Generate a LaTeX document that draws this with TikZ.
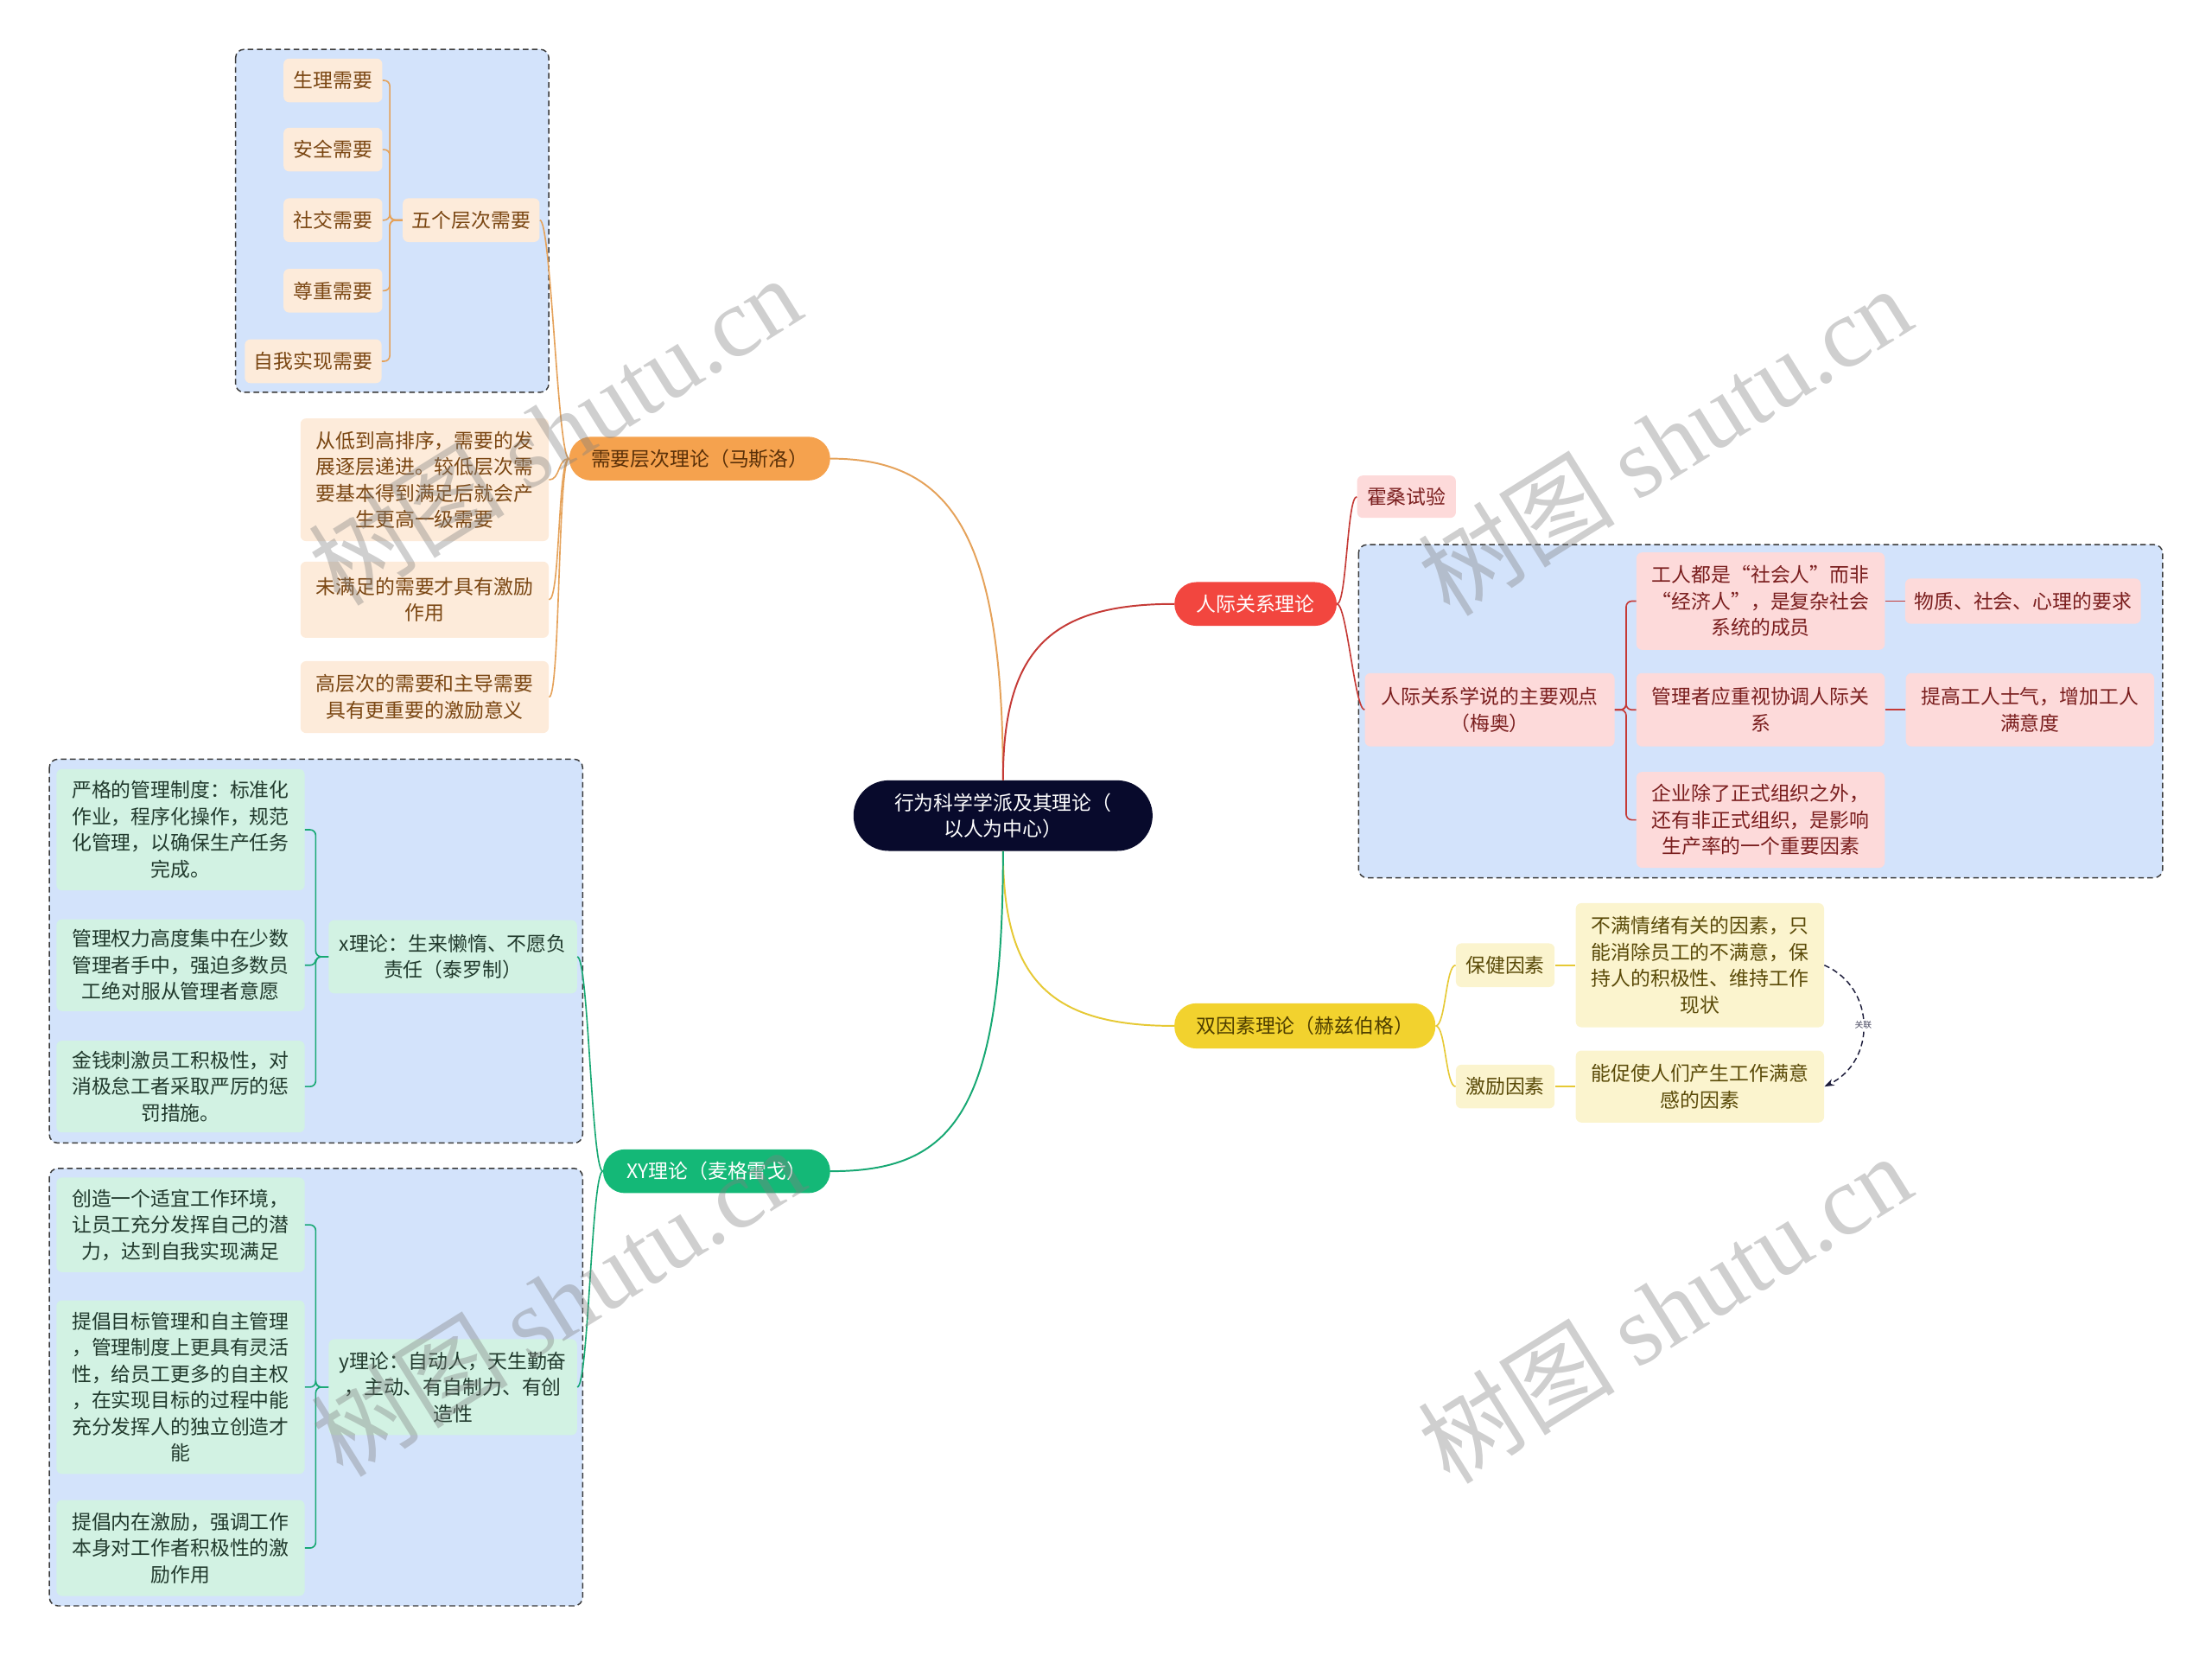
\documentclass[tikz,border=0pt]{standalone}
\usepackage{fontspec}
\setmainfont{Noto Sans CJK SC}
\newfontfamily\wmlatin{Liberation Serif}
\usetikzlibrary{calc,arrows.meta}
\definecolor{ctrF}{HTML}{080A2C}
\definecolor{orF}{HTML}{F5A24E}
\definecolor{orT}{HTML}{5A3008}
\definecolor{orL}{HTML}{E5A25A}
\definecolor{pchF}{HTML}{FDEBDA}
\definecolor{pchT}{HTML}{7A4612}
\definecolor{rdF}{HTML}{F2463F}
\definecolor{rdL}{HTML}{C53A36}
\definecolor{pkF}{HTML}{FDDADA}
\definecolor{pkT}{HTML}{7A1E1E}
\definecolor{ylF}{HTML}{F2D22E}
\definecolor{ylT}{HTML}{4E3E00}
\definecolor{ylL}{HTML}{E6C935}
\definecolor{lyF}{HTML}{FBF4CE}
\definecolor{lyT}{HTML}{5A4A08}
\definecolor{gnF}{HTML}{14B877}
\definecolor{gnL}{HTML}{17A873}
\definecolor{lgF}{HTML}{D2F2E3}
\definecolor{lgT}{HTML}{213A2D}
\definecolor{grpF}{HTML}{D3E3FB}
\definecolor{grpL}{HTML}{3A3A3A}
\definecolor{relL}{HTML}{1C1C3A}
\newcommand{\fsz}{\fontsize{14pt}{18.7pt}\selectfont}
\tikzset{
  sz/.style 2 args={minimum width=#1pt, minimum height=#2pt},
  base/.style={rounded corners=4pt, inner sep=0pt, align=center, font=\fsz},
  pch/.style={base, fill=pchF, text=pchT},
  pk/.style={base, fill=pkF, text=pkT},
  ly/.style={base, fill=lyF, text=lyT},
  lg/.style={base, fill=lgF, text=lgT},
  mainnode/.style={base, rounded corners=15.5pt},
  grp/.style={draw=grpL, fill=grpF, dashed, dash pattern=on 4pt off 2.5pt, line width=0.9pt, rounded corners=6pt},
  oline/.style={draw=orL, line width=1.2pt},
  rline/.style={draw=rdL, line width=1.2pt},
  yline/.style={draw=ylL, line width=1.2pt},
  gline/.style={draw=gnL, line width=1.2pt},
  scurve/.style={to path={.. controls ($(\tikztostart)+(#1,0)$) and ($(\tikztotarget)+({-1*(#1)},0)$) .. (\tikztotarget)}},
  brk/.style={rounded corners=4pt},
  wm/.style={text=gray, opacity=0.38, font=\fontsize{70pt}{80pt}\selectfont, inner sep=0pt}
}
\begin{document}
\begin{tikzpicture}[x=1pt,y=-1pt]
\useasboundingbox (0,0) rectangle (1568,1173);
% dashed groups
\draw[grp] (167,35) rectangle (389,278);
\draw[grp] (963,386) rectangle (1533,622);
\draw[grp] (35,538) rectangle (413,810);
\draw[grp] (35,828) rectangle (413,1138);

% central
\node[base, fill=ctrF, text=white, sz={212}{50}, rounded corners=25pt] (ctr) at (711,578) {行为科学学派及其理论（\\以人为中心）};

% main branches
\node[mainnode, fill=orF, text=orT, sz={185}{31}] (m1) at (496,325) {需要层次理论（马斯洛）};
\node[mainnode, fill=rdF, text=white, sz={115}{31}] (m2) at (890,428) {人际关系理论};
\node[mainnode, fill=ylF, text=ylT, sz={185}{32}] (m3) at (925,727) {双因素理论（赫兹伯格）};
\node[mainnode, fill=gnF, text=white, sz={161}{31}] (m4) at (508,830) {XY理论（麦格雷戈）};

% Maslow subtree
\node[pch, sz={70}{31}] (n11) at (236,57) {生理需要};
\node[pch, sz={70}{31}] (n12) at (236,106) {安全需要};
\node[pch, sz={70}{31}] (n13) at (236,156) {社交需要};
\node[pch, sz={70}{31}] (n14) at (236,206) {尊重需要};
\node[pch, sz={97}{31}] (n15) at (222,256) {自我实现需要};
\node[pch, sz={97}{31}] (n1a) at (334,156) {五个层次需要};
\node[pch, sz={176}{87}] (n1b) at (301,340) {从低到高排序，需要的发\\展逐层递进。较低层次需\\要基本得到满足后就会产\\生更高一级需要};
\node[pch, sz={176}{54}] (n1c) at (301,425) {未满足的需要才具有激励\\作用};
\node[pch, sz={176}{51}] (n1d) at (301,494) {高层次的需要和主导需要\\具有更重要的激励意义};

% Human relations subtree
\node[pk, sz={70}{30}] (r1) at (997,352) {霍桑试验};
\node[pk, sz={177}{52}] (r2) at (1056,503) {人际关系学说的主要观点\\（梅奥）};
\node[pk, sz={176}{69}] (r3) at (1248,426) {工人都是“社会人”而非\\“经济人”，是复杂社会\\系统的成员};
\node[pk, sz={176}{52}] (r4) at (1248,503) {管理者应重视协调人际关\\系};
\node[pk, sz={176}{68}] (r5) at (1248,581) {企业除了正式组织之外，\\还有非正式组织，是影响\\生产率的一个重要因素};
\node[pk, sz={167}{32}] (r6) at (1434,426) {物质、社会、心理的要求};
\node[pk, sz={176}{52}] (r7) at (1439,503) {提高工人士气，增加工人\\满意度};

% Two-factor subtree
\node[ly, sz={70}{31}] (y1) at (1067,684) {保健因素};
\node[ly, sz={70}{31}] (y2) at (1067,770) {激励因素};
\node[ly, sz={176}{88}] (y3) at (1205,684) {不满情绪有关的因素，只\\能消除员工的不满意，保\\持人的积极性、维持工作\\现状};
\node[ly, sz={176}{51}] (y4) at (1205,770) {能促使人们产生工作满意\\感的因素};

% XY subtree
\node[lg, sz={176}{52}] (g1) at (321,678) {x理论：生来懒惰、不愿负\\责任（泰罗制）};
\node[lg, sz={176}{68}] (g2) at (321,983) {y理论：自动人，天生勤奋\\，主动、有自制力、有创\\造性};
\node[lg, sz={176}{86}] (g11) at (128,588) {严格的管理制度：标准化\\作业，程序化操作，规范\\化管理，以确保生产任务\\完成。};
\node[lg, sz={176}{65}] (g12) at (128,684) {管理权力高度集中在少数\\管理者手中，强迫多数员\\工绝对服从管理者意愿};
\node[lg, sz={176}{65}] (g13) at (128,770) {金钱刺激员工积极性，对\\消极怠工者采取严厉的惩\\罚措施。};
\node[lg, sz={176}{67}] (g21) at (128,868) {创造一个适宜工作环境，\\让员工充分发挥自己的潜\\力，达到自我实现满足};
\node[lg, sz={176}{123}] (g22) at (128,983) {提倡目标管理和自主管理\\，管理制度上更具有灵活\\性，给员工更多的自主权\\，在实现目标的过程中能\\充分发挥人的独立创造才\\能};
\node[lg, sz={176}{68}] (g23) at (128,1097) {提倡内在激励，强调工作\\本身对工作者积极性的激\\励作用};

% connectors: central to main
\draw[oline] (ctr.north) .. controls (711,380) and (675,325) .. (m1.east);
\draw[rline] (ctr.north) .. controls (711,460) and (745,428) .. (m2.west);
\draw[yline] (ctr.south) .. controls (711,695) and (745,727) .. (m3.west);
\draw[gline] (ctr.south) .. controls (711,790) and (675,830) .. (m4.east);

% Maslow connectors
\foreach \c in {n1a,n1b,n1c,n1d} \draw[oline, line width=1pt, scurve=-8] (m1.west) to (\c.east);
\foreach \c in {n11,n12,n13,n14,n15} \draw[oline, line width=1pt, brk] (n1a.west) -- ++(-9,0) |- (\c.east);

% Human relations connectors
\foreach \c in {r1,r2} \draw[rline, line width=1pt, scurve=7] (m2.east) to (\c.west);
\foreach \c in {r3,r4,r5} \draw[rline, line width=1pt, brk] (r2.east) -- ++(8,0) |- (\c.west);
\draw[rline, line width=1pt] (r3.east) -- (r6.west);
\draw[rline, line width=1pt] (r4.east) -- (r7.west);

% Two-factor connectors
\foreach \c in {y1,y2} \draw[yline, line width=1pt, scurve=7] (m3.east) to (\c.west);
\draw[yline, line width=1pt] (y1.east) -- (y3.west);
\draw[yline, line width=1pt] (y2.east) -- (y4.west);
\draw[relL, line width=0.9pt, dashed, dash pattern=on 4pt off 2.5pt, -{Stealth[length=7pt,width=5pt]}]
  (y3.east) .. controls (1330,700) and (1330,752) .. (y4.east)
  node[pos=0.5, fill=white, inner sep=1pt, text=relL!80, font=\fontsize{6pt}{7pt}\selectfont] (rel) {关联};

% XY connectors
\foreach \c in {g1,g2} \draw[gline, line width=1pt, scurve=-8] (m4.west) to (\c.east);
\foreach \c in {g11,g12,g13} \draw[gline, line width=1pt, brk] (g1.west) -- ++(-9,0) |- (\c.east);
\foreach \c in {g21,g22,g23} \draw[gline, line width=1pt, brk] (g2.west) -- ++(-9,0) |- (\c.east);

% watermarks
\node[wm, rotate=32] (wm1) at (393,305) {树图 {\wmlatin shutu.cn}};
\node[wm, rotate=32] (wm2) at (1180,312) {树图 {\wmlatin shutu.cn}};
\node[wm, rotate=32] (wm3) at (1180,927) {树图 {\wmlatin shutu.cn}};
\node[wm, rotate=32] (wm4) at (395,922) {树图 {\wmlatin shutu.cn}};
\end{tikzpicture}
\end{document}
